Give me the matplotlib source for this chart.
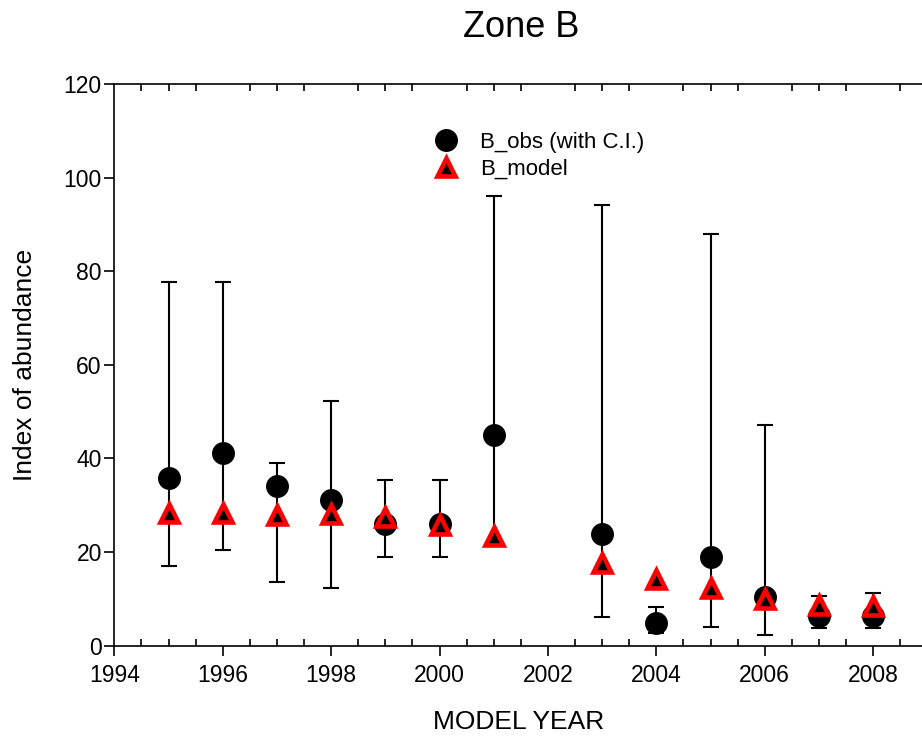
import numpy as np
import matplotlib
matplotlib.use("Agg")
import matplotlib.pyplot as plt
from matplotlib.lines import Line2D
from matplotlib.ticker import MultipleLocator

plt.rcParams["font.family"] = ["Liberation Sans", "DejaVu Sans"]

# observed index with confidence interval
years = [1995, 1996, 1997, 1998, 1999, 2000, 2001, 2003, 2004, 2005, 2006, 2007, 2008]
obs = [35.8, 41.1, 34.1, 31.1, 26.0, 26.0, 45.0, 23.9, 4.8, 18.9, 10.5, 6.3, 6.4]
obs_lo = [17.0, 20.5, 13.7, 12.4, 19.0, 19.0, 21.2, 6.2, 2.8, 4.1, 2.3, 3.7, 3.8]
obs_hi = [77.7, 77.7, 39.1, 52.3, 35.5, 35.5, 96.0, 94.1, 8.3, 87.9, 47.2, 10.7, 11.3]

# model estimate
model = [28.4, 28.3, 27.9, 28.1, 27.6, 25.8, 23.5, 17.6, 14.3, 12.3, 10.0, 8.6, 8.4]

x = np.array(years)
y = np.array(obs)
yerr = np.vstack([y - np.array(obs_lo), np.array(obs_hi) - y])

fig = plt.figure(figsize=(9.22, 7.4), dpi=100)
ax = fig.add_axes([0.124, 0.1274, 0.876, 0.7591])

ax.errorbar(x, y, yerr=yerr, fmt="none", ecolor="black", elinewidth=1.5,
            capsize=6, capthick=1.5, zorder=2)
ax.plot(x, y, "o", color="black", markersize=15.5, zorder=3)
ax.plot(x, model, "^", markerfacecolor="black", markeredgecolor="red",
        markeredgewidth=3.3, markersize=13, linestyle="none", zorder=4)

ax.set_xlim(1994, 2008.9)
ax.set_ylim(0, 120)
ax.xaxis.set_major_locator(MultipleLocator(2))
ax.xaxis.set_minor_locator(MultipleLocator(0.5))
ax.yaxis.set_major_locator(MultipleLocator(20))

ax.tick_params(which="major", direction="out", length=7, width=1.2,
               labelsize=16.5, top=False, right=False)
ax.tick_params(axis="x", which="major", pad=6)
ax.tick_params(axis="y", which="major", pad=2)
ax.tick_params(which="minor", axis="x", direction="in", length=5, width=1.2,
               top=True, bottom=True)
ax.spines["right"].set_visible(False)
for s in ["left", "bottom", "top"]:
    ax.spines[s].set_linewidth(1.2)

ax.set_xlabel("MODEL YEAR", fontsize=19, labelpad=17)
ax.set_ylabel("Index of abundance", fontsize=19, labelpad=19)
fig.text(0.565, 0.963, "Zone B", fontsize=26, ha="center", va="center")

handles = [
    Line2D([], [], marker="o", color="black", linestyle="none", markersize=15.5),
    Line2D([], [], marker="^", markerfacecolor="black", markeredgecolor="red",
           markeredgewidth=3.3, markersize=13, linestyle="none"),
]
ax.legend(handles, ["B_obs (with C.I.)", "B_model"], loc="upper left",
          bbox_to_anchor=(0.365, 0.951), frameon=False, fontsize=16,
          handletextpad=0.8, labelspacing=0.3, handlelength=1.5)

fig.savefig("out.png", dpi=100)
